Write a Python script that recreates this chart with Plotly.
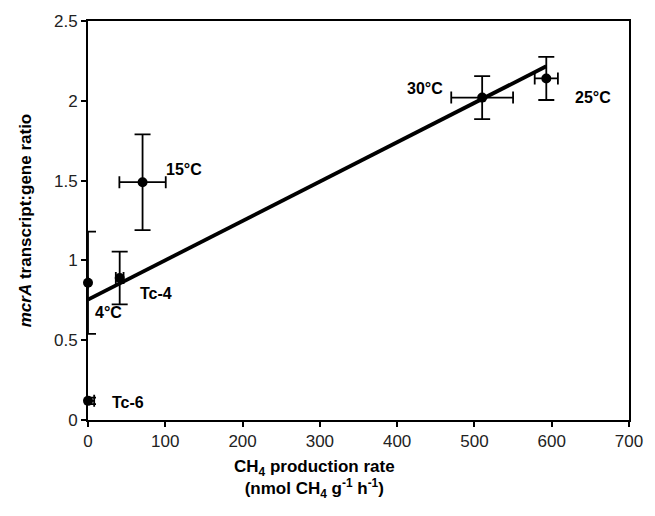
import numpy as np
import plotly.graph_objects as go

labels = ["4°C", "Tc-4", "Tc-6", "15°C", "30°C", "25°C"]
rate = [0, 41, 0, 70.6, 510, 593]
rate_err = [0, 5, 8, 30, 40, 15]
ratio = [0.86, 0.89, 0.12, 1.49, 2.02, 2.14]
ratio_err = [0.32, 0.165, 0.02, 0.30, 0.135, 0.135]
label_x = [26, 88, 52, 124, 436, 653]
label_y = [0.675, 0.79, 0.11, 1.57, 2.08, 2.02]

slope, intercept = np.polyfit(rate, ratio, 1)
line_x = [min(rate), max(rate)]
line_y = [intercept + slope * v for v in line_x]

FONT = "Liberation Sans, Arial, Helvetica"

fig = go.Figure()
fig.add_trace(go.Scatter(x=line_x, y=line_y, mode="lines",
                         line=dict(color="black", width=3.8), showlegend=False))
fig.add_trace(go.Scatter(
    x=rate, y=ratio, mode="markers",
    marker=dict(color="black", size=10),
    error_x=dict(type="data", array=rate_err, color="black", thickness=1.8, width=6),
    error_y=dict(type="data", array=ratio_err, color="black", thickness=1.8, width=8),
    showlegend=False, cliponaxis=False))

for t, x, y in zip(labels, label_x, label_y):
    fig.add_annotation(x=x, y=y, text="<b>%s</b>" % t, showarrow=False,
                       font=dict(family=FONT, size=16, color="black"))

fig.add_annotation(xref="paper", yref="paper", x=0.419, y=0, yshift=-59,
                   xanchor="center", yanchor="middle", showarrow=False,
                   text="<b>CH<sub>4</sub> production rate<br>(nmol CH<sub>4</sub> g<sup>-1</sup> h<sup>-1</sup>)</b>",
                   font=dict(family=FONT, size=17, color="black"))

fig.update_layout(
    width=655, height=516,
    margin=dict(l=88, r=23, t=20, b=96),
    plot_bgcolor="white", paper_bgcolor="white",
    font=dict(family=FONT, size=17, color="#222"),
)
fig.update_xaxes(range=[0, 700], tickvals=list(range(0, 701, 100)),
                 showgrid=False, zeroline=False, showline=True, linecolor="black",
                 linewidth=2, mirror=True, ticks="outside", ticklen=5, tickwidth=1.5,
                 tickcolor="black")
fig.update_yaxes(range=[0, 2.5], tickvals=[0, 0.5, 1, 1.5, 2, 2.5],
                 ticktext=["0", "0.5", "1", "1.5", "2", "2.5"],
                 showgrid=False, zeroline=False, showline=True, linecolor="black",
                 linewidth=2, mirror=True, ticks="outside", ticklen=5, tickwidth=1.5,
                 tickcolor="black",
                 title=dict(text="<b><i>mcrA</i> transcript:gene ratio</b>",
                            font=dict(size=17, color="black"), standoff=18))

fig.write_html("out.html")
